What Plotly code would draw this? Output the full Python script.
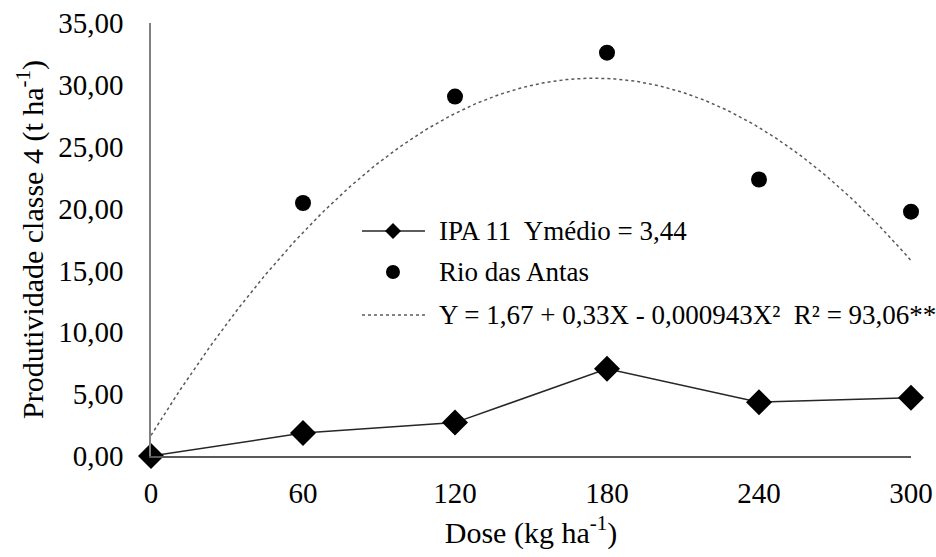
import numpy as np
import plotly.graph_objects as go

# Doses (kg ha-1)
doses = [0, 60, 120, 180, 240, 300]
# Class 4 yield (t ha-1)
ipa11 = [0.0, 1.85, 2.70, 7.05, 4.35, 4.70]
rio_das_antas = [0.0, 20.45, 29.05, 32.6, 22.35, 19.75]

# Quadratic fit for Rio das Antas
b0, b1, b2 = 1.67, 0.33, -0.000943
x_fit = np.linspace(0, 300, 301)
y_fit = b0 + b1 * x_fit + b2 * x_fit ** 2

x_ticks = [0, 60, 120, 180, 240, 300]
y_ticks = [0, 5, 10, 15, 20, 25, 30, 35]
y_tick_text = [f"{v:.2f}".replace(".", ",") for v in y_ticks]

legend_labels = [
    "IPA 11\u00a0 Ymédio = 3,44",
    "Rio das Antas",
    "Y = 1,67 + 0,33X - 0,000943X²\u00a0 R² = 93,06**",
]

serif = "Liberation Serif"
tick_font = dict(family=serif, size=29, color="black")
title_font = dict(family=serif, size=30, color="black")
legend_font = dict(family=serif, size=27, color="black")

fig = go.Figure()

fig.add_trace(go.Scatter(
    x=doses, y=rio_das_antas, mode="markers", name=legend_labels[1],
    marker=dict(symbol="circle", size=16, color="black"),
    cliponaxis=False,
))
fig.add_trace(go.Scatter(
    x=doses, y=ipa11, mode="lines+markers", name=legend_labels[0],
    line=dict(color="#262626", width=1.5),
    marker=dict(symbol="diamond", size=20, color="black"),
    cliponaxis=False,
))
fig.add_trace(go.Scatter(
    x=x_fit.tolist(), y=y_fit.tolist(), mode="lines", name=legend_labels[2],
    line=dict(color="#595959", width=1.5, dash="3px,3px"),
    cliponaxis=False,
))

# Legend box drawn inside the plot area (paper coordinates)
key_x0, key_x1, key_mid, text_x = 0.2776, 0.3605, 0.3184, 0.3763
row_y = [0.5196, 0.4249, 0.3256]

shapes = [
    # IPA 11: solid line with a diamond
    dict(type="line", xref="paper", yref="paper", x0=key_x0, x1=key_x1,
         y0=row_y[0], y1=row_y[0], line=dict(color="#262626", width=1.5)),
    dict(type="path", xref="paper", yref="paper", xsizemode="pixel", ysizemode="pixel",
         xanchor=key_mid, yanchor=row_y[0], path="M -8,0 L 0,8 L 8,0 L 0,-8 Z",
         fillcolor="black", line=dict(color="black", width=0)),
    # Rio das Antas: filled circle
    dict(type="circle", xref="paper", yref="paper", xsizemode="pixel", ysizemode="pixel",
         xanchor=key_mid, yanchor=row_y[1], x0=-7, x1=7, y0=-7, y1=7,
         fillcolor="black", line=dict(color="black", width=0)),
    # Fitted curve: dashed line
    dict(type="line", xref="paper", yref="paper", x0=key_x0, x1=key_x1,
         y0=row_y[2], y1=row_y[2], line=dict(color="#595959", width=1.5, dash="3px,3px")),
]

annotations = [
    dict(x=text_x, y=y, xref="paper", yref="paper", text=label, showarrow=False,
         xanchor="left", yanchor="middle", font=legend_font)
    for label, y in zip(legend_labels, row_y)
]

fig.update_layout(
    template="none",
    width=936, height=557,
    margin=dict(l=151, r=25, t=23, b=101, autoexpand=False),
    paper_bgcolor="white", plot_bgcolor="white",
    font=dict(family=serif, size=29, color="black"),
    showlegend=False,
    shapes=shapes,
    annotations=annotations,
    xaxis=dict(
        range=[0, 300], tickvals=x_ticks, ticktext=[str(v) for v in x_ticks],
        showgrid=False, zeroline=False,
        showline=True, linecolor="#595959", linewidth=1.5,
        ticks="", ticklabelstandoff=10, tickfont=tick_font,
        title=dict(text="Dose (kg ha<sup>-1</sup>)", standoff=14, font=title_font),
    ),
    yaxis=dict(
        range=[0, 35], tickvals=y_ticks, ticktext=y_tick_text,
        showgrid=False, zeroline=False,
        showline=True, linecolor="#808080", linewidth=1.5,
        ticks="", ticklabelstandoff=20, tickfont=tick_font,
        title=dict(text="Produtividade classe 4 (t ha<sup>-1</sup>)", standoff=6, font=title_font),
    ),
)

fig.write_html("out.html")
